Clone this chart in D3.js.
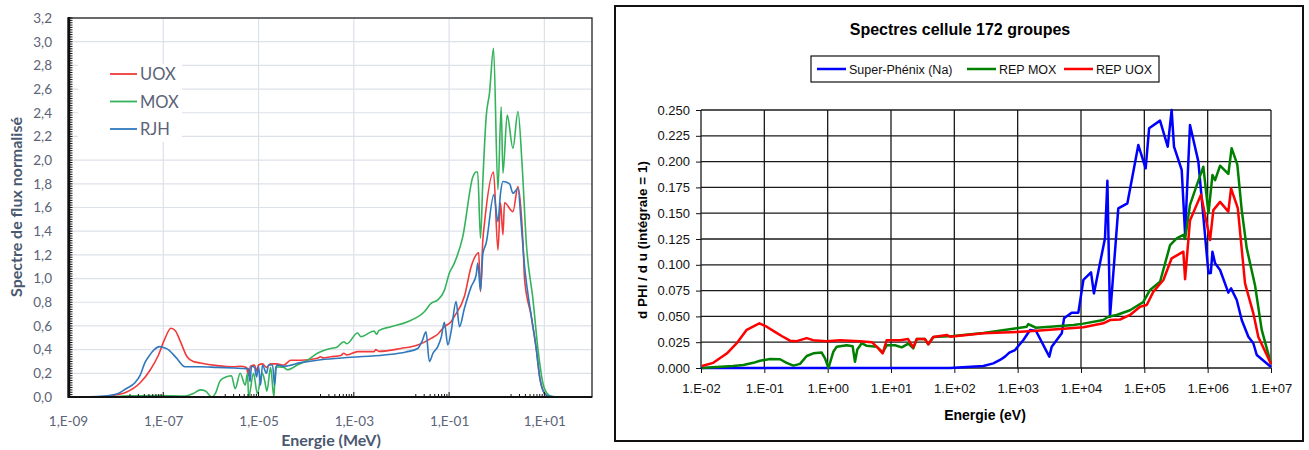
<!DOCTYPE html>
<html>
<head>
<meta charset="utf-8">
<script src="https://d3js.org/d3.v7.min.js"></script>
<style>
  body { margin: 0; background: #fff; }
  svg { display: block; }
</style>
</head>
<body>
<script>
// ---------- left chart : energy in MeV, normalised flux ----------
var uoxE = [3.7e-9, 7.65e-9, 1.66e-8, 3.28e-8, 5.32e-8, 7.85e-8, 1.05e-7, 1.45e-7, 1.79e-7, 2.28e-7, 3.16e-7, 4.29e-7, 6.01e-7, 1.35e-6, 2.98e-6, 4.15e-6, 5.58e-6, 6.15e-6, 6.79e-6, 8.24e-6, 9.08e-6, 1e-5, 1.21e-5, 1.47e-5, 1.79e-5, 2.39e-5, 3.41e-5, 4.72e-5, 7.66e-5, 1.72e-4, 2.02e-4, 2.22e-4, 3.28e-4, 5.32e-4, 6.15e-4, 7.13e-4, 1.2e-3, 2.67e-3, 2.9e-3, 3.36e-3, 9.75e-3, 2.19e-2, 3.28e-2, 4.18e-2, 5.78e-2, 7.96e-2, 0.110, 0.129, 0.210, 0.290, 0.370, 0.418, 0.456, 0.512, 0.553, 0.857, 1.06, 1.20, 1.35, 1.46, 2.19, 2.79, 3.56, 3.85, 5.32, 6.79, 7.96, 10.1, 12.7];
var uoxFlux = [0, 0.01, 0.04, 0.12, 0.228, 0.35, 0.48, 0.58, 0.56, 0.47, 0.34, 0.30, 0.287, 0.265, 0.255, 0.26, 0.25, 0.18, 0.26, 0.27, 0.22, 0.27, 0.28, 0.25, 0.28, 0.28, 0.27, 0.31, 0.31, 0.327, 0.34, 0.33, 0.34, 0.35, 0.37, 0.355, 0.383, 0.383, 0.40, 0.385, 0.41, 0.44, 0.47, 0.495, 0.53, 0.594, 0.636, 0.68, 0.85, 1.10, 1.20, 1.22, 0.89, 1.33, 1.467, 1.90, 1.24, 1.64, 1.37, 1.64, 1.565, 1.776, 1.30, 0.99, 0.68, 0.40, 0.17, 0.03, 0];

var moxE = [7.65e-9, 2.33e-8, 8.65e-8, 2.9e-7, 4.29e-7, 6.01e-7, 7.66e-7, 1.06e-6, 1.24e-6, 1.58e-6, 2.12e-6, 2.7e-6, 3.23e-6, 4.12e-6, 5.25e-6, 5.86e-6, 6.2e-6, 7.85e-6, 9.4e-6, 1.2e-5, 1.34e-5, 1.5e-5, 1.79e-5, 2.1e-5, 2.28e-5, 3.41e-5, 4.02e-5, 6.53e-5, 1.06e-4, 1.72e-4, 3.28e-4, 4.39e-4, 6.15e-4, 7.13e-4, 1.2e-3, 1.4e-3, 2.67e-3, 3.0e-3, 3.36e-3, 6.01e-3, 1.35e-2, 3.02e-2, 4.18e-2, 5.78e-2, 7.96e-2, 0.101, 0.129, 0.194, 0.316, 0.370, 0.398, 0.456, 0.512, 0.601, 0.705, 0.857, 1.06, 1.24, 1.35, 1.66, 2.19, 2.79, 3.40, 4.18, 5.78, 7.36, 9.4, 12.0, 15.5];
var moxFlux = [0, 0.01, 0.012, 0.008, 0.03, 0.06, 0.05, 0, 0.03, 0.14, 0.17, 0.18, 0.07, 0.20, 0.10, 0.20, 0, 0.20, 0.03, 0.20, 0.14, 0.05, 0.25, 0, 0.256, 0.25, 0.23, 0.27, 0.31, 0.37, 0.41, 0.42, 0.467, 0.45, 0.54, 0.51, 0.557, 0.53, 0.56, 0.594, 0.636, 0.72, 0.79, 0.82, 0.90, 1.045, 1.13, 1.354, 1.86, 1.90, 1.90, 1.34, 1.83, 2.367, 2.565, 2.945, 1.75, 2.45, 1.89, 2.38, 2.10, 2.41, 1.97, 1.30, 0.82, 0.40, 0.11, 0.02, 0];

var rjhE = [2.28e-9, 4.72e-9, 1.13e-8, 1.66e-8, 2.54e-8, 3.28e-8, 4.12e-8, 5.32e-8, 6.47e-8, 8.36e-8, 1.05e-7, 1.27e-7, 1.88e-7, 2.86e-7, 6.01e-7, 1.35e-6, 2.98e-6, 5.58e-6, 6.15e-6, 6.62e-6, 7.13e-6, 8.24e-6, 9.08e-6, 1e-5, 1.1e-5, 1.21e-5, 1.47e-5, 1.62e-5, 1.97e-5, 2.17e-5, 2.39e-5, 3.41e-5, 7.66e-5, 2.02e-4, 8.65e-4, 4.29e-3, 1.24e-2, 2.19e-2, 2.7e-2, 3.28e-2, 3.85e-2, 4.6e-2, 5.78e-2, 6.79e-2, 7.96e-2, 9.4e-2, 0.110, 0.140, 0.165, 0.210, 0.290, 0.370, 0.40, 0.456, 0.512, 0.601, 0.87, 1.06, 1.20, 1.35, 1.86, 2.19, 2.79, 3.28, 3.85, 4.6, 5.32, 6.79, 7.96, 10.1, 12.7, 19.7];
var rjhFlux = [0, 0.005, 0.03, 0.07, 0.12, 0.185, 0.29, 0.36, 0.40, 0.425, 0.415, 0.40, 0.33, 0.256, 0.256, 0.25, 0.245, 0.24, 0.24, 0.13, 0.26, 0.25, 0.17, 0.26, 0.10, 0.27, 0.20, 0.27, 0.27, 0.10, 0.27, 0.26, 0.29, 0.315, 0.335, 0.355, 0.38, 0.41, 0.47, 0.55, 0.30, 0.37, 0.425, 0.50, 0.63, 0.44, 0.55, 0.805, 0.594, 0.75, 0.93, 1.03, 1.13, 0.90, 1.21, 1.30, 1.71, 1.48, 1.72, 1.82, 1.80, 1.72, 1.76, 1.45, 1.10, 0.85, 0.68, 0.40, 0.17, 0.03, 0.005, 0];

var leftXTicks = [1e-9, 1e-7, 1e-5, 1e-3, 1e-1, 1e1];
var leftXLabels = ["1,E-09", "1,E-07", "1,E-05", "1,E-03", "1,E-01", "1,E+01"];
var leftYTicks = [0, 0.2, 0.4, 0.6, 0.8, 1.0, 1.2, 1.4, 1.6, 1.8, 2.0, 2.2, 2.4, 2.6, 2.8, 3.0, 3.2];
var leftYLabels = ["0,0", "0,2", "0,4", "0,6", "0,8", "1,0", "1,2", "1,4", "1,6", "1,8", "2,0", "2,2", "2,4", "2,6", "2,8", "3,0", "3,2"];
var leftSeries = ["UOX", "MOX", "RJH"];

// ---------- right chart : energy in eV, d PHI / d u ----------
var spxE = [1e-2, 1, 85.5, 287, 413, 526, 631, 738, 908, 1230, 1570, 1950, 3160, 3450, 4970, 5400, 7130, 9080, 1.09e4, 1.44e4, 1.6e4, 2.39e4, 2.61e4, 2.87e4, 3.88e4, 5.4e4, 8.04e4, 1.05e5, 1.19e5, 1.77e5, 2.34e5, 2.70e5, 2.94e5, 3.89e5, 4.40e5, 5.26e5, 7.13e5, 1.03e6, 1.12e6, 1.19e6, 1.31e6, 1.57e6, 2.12e6, 2.34e6, 2.88e6, 3.45e6, 4.39e6, 5.26e6, 5.96e6, 1e7];
var spxPhi = [0, 0, 0, 0.002, 0.0045, 0.0078, 0.011, 0.0149, 0.0174, 0.0271, 0.0368, 0.0359, 0.011, 0.0207, 0.0336, 0.0481, 0.0536, 0.0536, 0.0853, 0.0927, 0.0723, 0.1256, 0.1815, 0.0497, 0.1547, 0.1596, 0.216, 0.1935, 0.2323, 0.2397, 0.2145, 0.25, 0.2145, 0.192, 0.13, 0.2355, 0.20, 0.0917, 0.092, 0.1127, 0.1014, 0.095, 0.073, 0.0772, 0.0659, 0.0465, 0.0303, 0.024, 0.0126, 0.001];

var repMoxE = [1.03e-2, 1.77e-2, 3.2e-2, 4.66e-2, 6.7e-2, 8.55e-2, 0.123, 0.177, 0.225, 0.287, 0.366, 0.467, 0.594, 0.805, 0.908, 1.03, 1.23, 1.39, 2.0, 2.48, 2.70, 2.94, 3.45, 4.14, 5.94, 7.40, 8.55, 11.6, 14.8, 18.8, 22.5, 25.5, 34.4, 38.8, 46.6, 96.4, 287, 966, 1390, 1470, 1950, 3240, 7570, 1.09e4, 2.25e4, 2.70e4, 3.66e4, 5.94e4, 9.64e4, 1.23e5, 1.77e5, 2.55e5, 3.24e5, 4.13e5, 4.40e5, 5.26e5, 6.71e5, 8.55e5, 1.03e6, 1.19e6, 1.31e6, 1.57e6, 2.12e6, 2.39e6, 2.94e6, 3.45e6, 4.14e6, 5.60e6, 7.14e6, 1e7];
var repMoxPhi = [0, 0.001, 0.002, 0.003, 0.005, 0.007, 0.0087, 0.0085, 0.005, 0.0023, 0.004, 0.0116, 0.0142, 0.015, 0.0094, 0, 0.0158, 0.0207, 0.022, 0.021, 0.006, 0.018, 0.024, 0.0215, 0.0207, 0.015, 0.022, 0.022, 0.020, 0.0236, 0.019, 0.028, 0.028, 0.023, 0.030, 0.031, 0.034, 0.0385, 0.040, 0.0426, 0.039, 0.040, 0.0417, 0.043, 0.0465, 0.0497, 0.0514, 0.056, 0.064, 0.0756, 0.0836, 0.119, 0.1257, 0.129, 0.125, 0.158, 0.177, 0.195, 0.15, 0.187, 0.182, 0.196, 0.188, 0.213, 0.197, 0.153, 0.116, 0.080, 0.037, 0.004];

var repUoxE = [1.03e-2, 1.56e-2, 2.55e-2, 3.67e-2, 5.27e-2, 8.34e-2, 0.109, 0.147, 0.188, 0.254, 0.324, 0.467, 0.587, 0.966, 1.57, 3.24, 5.01, 6.31, 7.40, 8.55, 13.9, 18.6, 22.5, 25.5, 34.4, 38.8, 46.6, 75.9, 85.5, 287, 966, 2000, 6710, 1.09e4, 2.25e4, 2.87e4, 4.13e4, 5.94e4, 8.55e4, 1.09e5, 1.39e5, 2.0e5, 2.70e5, 4.13e5, 4.40e5, 5.26e5, 7.85e5, 1.09e6, 1.23e6, 1.57e6, 2.12e6, 2.34e6, 2.99e6, 3.89e6, 5.26e6, 6.31e6, 1e7];
var repUoxPhi = [0.002, 0.005, 0.014, 0.024, 0.037, 0.0433, 0.040, 0.035, 0.031, 0.0265, 0.026, 0.029, 0.027, 0.026, 0.027, 0.026, 0.025, 0.019, 0.0142, 0.027, 0.027, 0.028, 0.020, 0.028, 0.028, 0.023, 0.030, 0.032, 0.0303, 0.0336, 0.0349, 0.036, 0.0385, 0.0395, 0.0433, 0.0465, 0.047, 0.0514, 0.0594, 0.061, 0.074, 0.0853, 0.1063, 0.1127, 0.086, 0.143, 0.168, 0.124, 0.153, 0.161, 0.1515, 0.174, 0.155, 0.082, 0.053, 0.030, 0.004];

var rightXTicks = [1e-2, 1e-1, 1e0, 1e1, 1e2, 1e3, 1e4, 1e5, 1e6, 1e7];
var rightXLabels = ["1.E-02", "1.E-01", "1.E+00", "1.E+01", "1.E+02", "1.E+03", "1.E+04", "1.E+05", "1.E+06", "1.E+07"];
var rightYTicks = [0, 0.025, 0.05, 0.075, 0.1, 0.125, 0.15, 0.175, 0.2, 0.225, 0.25];
var rightYLabels = ["0.000", "0.025", "0.050", "0.075", "0.100", "0.125", "0.150", "0.175", "0.200", "0.225", "0.250"];
var rightSeries = ["Super-Phénix (Na)", "REP MOX", "REP UOX"];

var svg = d3.select("body").append("svg")
    .attr("width", 1309)
    .attr("height", 450);

// ================= left chart =================
var lf = "Lato, 'Open Sans', sans-serif";
var gL = svg.append("g");
var xL = d3.scaleLog().domain([1e-9, 1e2]).range([68, 592]);
var yL = d3.scaleLinear().domain([0, 3.2]).range([397, 18]);

gL.selectAll(".hgrid").data(leftYTicks.slice(1)).enter().append("line")
    .attr("x1", 68).attr("x2", 592)
    .attr("y1", d => yL(d)).attr("y2", d => yL(d))
    .attr("stroke", "#dde1e9").attr("stroke-width", 1.2);
gL.selectAll(".vgrid").data(leftXTicks.slice(1)).enter().append("line")
    .attr("x1", d => xL(d)).attr("x2", d => xL(d))
    .attr("y1", 18).attr("y2", 397)
    .attr("stroke", "#dde1e9").attr("stroke-width", 1.2);

// legend background hides the grid
gL.append("rect").attr("x", 78).attr("y", 64).attr("width", 104).attr("height", 78).attr("fill", "#fff");

var lineL = d3.line().curve(d3.curveMonotoneX).x(d => xL(d[0])).y(d => yL(d[1]));
var leftColors = ["#f23a3a", "#35b35c", "#2f78bd"];
[[uoxE, uoxFlux], [moxE, moxFlux], [rjhE, rjhFlux]].forEach(function(s, i) {
    gL.append("path")
        .datum(d3.zip(s[0], s[1]))
        .attr("d", lineL)
        .attr("fill", "none")
        .attr("stroke", leftColors[i])
        .attr("stroke-width", 1.6)
        .attr("stroke-linejoin", "round");
});

// frame and axes
gL.append("rect").attr("x", 68).attr("y", 18).attr("width", 524).attr("height", 379)
    .attr("fill", "none").attr("stroke", "#222").attr("stroke-width", 1.3);
gL.append("line").attr("x1", 69).attr("x2", 69).attr("y1", 17).attr("y2", 398)
    .attr("stroke", "#111").attr("stroke-width", 2.5);
gL.append("line").attr("x1", 68).attr("x2", 592).attr("y1", 397).attr("y2", 397)
    .attr("stroke", "#111").attr("stroke-width", 1.8);

// dense minor ticks on the value axis
gL.selectAll(".ytick").data(d3.range(0, 3.2001, 0.02)).enter().append("line")
    .attr("x1", 69).attr("x2", 72.5)
    .attr("y1", d => yL(d)).attr("y2", d => yL(d))
    .attr("stroke", "#111").attr("stroke-width", 1);

// log minor ticks in the decades leading to each label
var minor = [];
[-8, -6, -4, -2, 0].forEach(function(k) {
    for (var m = 2; m <= 10; m++) minor.push(m * Math.pow(10, k));
});
gL.selectAll(".xtick").data(minor).enter().append("line")
    .attr("x1", d => xL(d)).attr("x2", d => xL(d))
    .attr("y1", 397).attr("y2", d => Math.abs(Math.log10(d) % 1) < 1e-9 ? 392 : 394)
    .attr("stroke", "#111").attr("stroke-width", 1);

gL.append("g")
    .attr("transform", "translate(0,397)")
    .call(d3.axisBottom(xL).tickValues(leftXTicks)
        .tickFormat((d, i) => leftXLabels[i]).tickSize(0).tickPadding(19))
    .call(g => g.select(".domain").remove())
    .attr("font-family", lf).attr("font-size", 13.5).attr("color", "#5b6377");

gL.append("g")
    .attr("transform", "translate(68,0)")
    .call(d3.axisLeft(yL).tickValues(leftYTicks)
        .tickFormat((d, i) => leftYLabels[i]).tickSize(0).tickPadding(16))
    .call(g => g.select(".domain").remove())
    .attr("font-family", lf).attr("font-size", 13.5).attr("color", "#5b6377");

// legend
var legL = gL.selectAll(".legL").data(leftSeries).enter().append("g")
    .attr("transform", (d, i) => "translate(0," + (74 + i * 27.5) + ")");
legL.append("line").attr("x1", 110).attr("x2", 137).attr("y1", 0).attr("y2", 0)
    .attr("stroke", (d, i) => leftColors[i]).attr("stroke-width", 1.8);
legL.append("text").attr("x", 140).attr("y", 6)
    .attr("font-family", lf).attr("font-size", 16.5).attr("fill", "#5b6377")
    .text(d => d);

gL.append("text")
    .attr("x", 331).attr("y", 446)
    .attr("text-anchor", "middle")
    .attr("font-family", lf).attr("font-size", 16).attr("font-weight", "bold")
    .attr("fill", "#4a5870")
    .text("Energie (MeV)");
gL.append("text")
    .attr("transform", "translate(22,207) rotate(-90)")
    .attr("text-anchor", "middle")
    .attr("font-family", lf).attr("font-size", 16).attr("font-weight", "bold")
    .attr("fill", "#4a5870")
    .text("Spectre de flux normalisé");

// ================= right chart =================
var rf = "'Liberation Sans', Arial, sans-serif";
var gR = svg.append("g").attr("font-family", rf);
var xR = d3.scaleLog().domain([1e-2, 1e7]).range([701, 1271]);
var yR = d3.scaleLinear().domain([0, 0.25]).range([368, 110]);

gR.append("rect").attr("x", 615).attr("y", 6).attr("width", 688).attr("height", 435)
    .attr("fill", "#fff").attr("stroke", "#111").attr("stroke-width", 2);

gR.append("text")
    .attr("x", 960).attr("y", 35)
    .attr("text-anchor", "middle")
    .attr("font-size", 16).attr("font-weight", "bold")
    .text("Spectres cellule 172 groupes");

gR.selectAll(".hgridR").data(rightYTicks).enter().append("line")
    .attr("x1", 701).attr("x2", 1271)
    .attr("y1", d => yR(d)).attr("y2", d => yR(d))
    .attr("stroke", "#1a1a1a").attr("stroke-width", 1.3);
gR.selectAll(".vgridR").data(rightXTicks).enter().append("line")
    .attr("x1", d => xR(d)).attr("x2", d => xR(d))
    .attr("y1", 110).attr("y2", 368)
    .attr("stroke", "#1a1a1a").attr("stroke-width", 1.3);

gR.append("g")
    .attr("transform", "translate(0,368)")
    .call(d3.axisBottom(xR).tickValues(rightXTicks)
        .tickFormat((d, i) => rightXLabels[i]).tickSize(5).tickPadding(11))
    .call(g => g.select(".domain").remove())
    .attr("font-family", rf).attr("font-size", 13).attr("color", "#111");

gR.append("g")
    .attr("transform", "translate(701,0)")
    .call(d3.axisLeft(yR).tickValues(rightYTicks)
        .tickFormat((d, i) => rightYLabels[i]).tickSize(5).tickPadding(6))
    .call(g => g.select(".domain").remove())
    .attr("font-family", rf).attr("font-size", 13).attr("color", "#111");

var lineR = d3.line().x(d => xR(d[0])).y(d => yR(d[1]));
var rightColors = ["#0000ff", "#008000", "#ff0000"];
[[spxE, spxPhi], [repMoxE, repMoxPhi], [repUoxE, repUoxPhi]].forEach(function(s, i) {
    gR.append("path")
        .datum(d3.zip(s[0], s[1]))
        .attr("d", lineR)
        .attr("fill", "none")
        .attr("stroke", rightColors[i])
        .attr("stroke-width", 2.5)
        .attr("stroke-linejoin", "round");
});

// legend box
gR.append("rect").attr("x", 811).attr("y", 56).attr("width", 348).attr("height", 26)
    .attr("fill", "#fff").attr("stroke", "#111").attr("stroke-width", 1.2);
var legX = [817, 967, 1064];
var legR = gR.selectAll(".legR").data(rightSeries).enter().append("g")
    .attr("transform", (d, i) => "translate(" + legX[i] + ",69)");
legR.append("line").attr("x1", 0).attr("x2", 29).attr("y1", 0).attr("y2", 0)
    .attr("stroke", (d, i) => rightColors[i]).attr("stroke-width", 2.5);
legR.append("text").attr("x", 32).attr("y", 4.5)
    .attr("font-size", 12.5).attr("fill", "#111")
    .text(d => d);

gR.append("text")
    .attr("x", 985).attr("y", 420)
    .attr("text-anchor", "middle")
    .attr("font-size", 14).attr("font-weight", "bold")
    .text("Energie (eV)");
gR.append("text")
    .attr("transform", "translate(647,240) rotate(-90)")
    .attr("text-anchor", "middle")
    .attr("font-size", 13.5).attr("font-weight", "bold")
    .text("d PHI / d u (intégrale = 1)");
</script>
</body>
</html>
